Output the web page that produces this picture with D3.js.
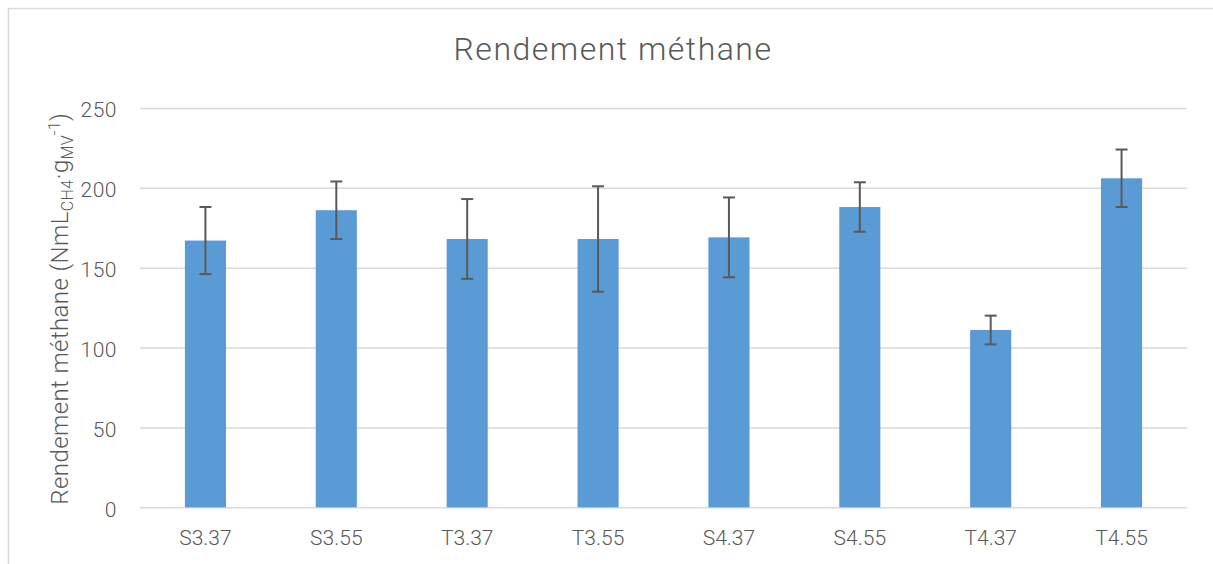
<!DOCTYPE html>
<html>
<head>
<meta charset="utf-8">
<script src="https://cdn.jsdelivr.net/npm/d3@7"></script>
<style>
  html, body { margin: 0; padding: 0; background: #ffffff; }
  svg { display: block; }
  text { font-family: Roboto, "Liberation Sans", sans-serif; font-weight: 300; fill: #595959; }
</style>
</head>
<body>
<svg id="chart" width="1213" height="564"></svg>
<script>
// Methane yield per sample, with standard deviation
const categories = ["S3.37", "S3.55", "T3.37", "T3.55", "S4.37", "S4.55", "T4.37", "T4.55"];
const yieldValues = [167, 186, 168, 168, 169, 188, 111, 206];
const yieldErrors = [21, 18, 25, 33, 25, 15.5, 9, 18];
const yTicks = [0, 50, 100, 150, 200, 250];

const svg = d3.select("#chart");
const W = 1213, H = 564;
const margin = { left: 140, right: 26, top: 108, bottom: 56 };

// chart frame
svg.append("rect")
  .attr("x", 8.5).attr("y", 8.5)
  .attr("width", W + 20).attr("height", H + 20)
  .attr("fill", "#ffffff")
  .attr("stroke", "#d9d9d9").attr("stroke-width", 1.5);

const x = d3.scaleBand()
  .domain(categories)
  .range([margin.left, W - margin.right])
  .paddingInner(0.686)
  .paddingOuter(0.343);

const y = d3.scaleLinear()
  .domain([0, 250])
  .range([H - margin.bottom - 0.7, margin.top]);

// gridlines
const grid = svg.append("g")
  .attr("transform", `translate(${margin.left},0)`)
  .call(d3.axisLeft(y).tickValues(yTicks).tickSize(-(W - margin.right - margin.left)).tickFormat(""));
grid.select(".domain").remove();
grid.selectAll("line").attr("stroke", "#d9d9d9").attr("stroke-width", 1.5);

// y tick labels
const yAxis = svg.append("g")
  .attr("transform", `translate(${margin.left},0)`)
  .call(d3.axisLeft(y).tickValues(yTicks).tickSize(0).tickPadding(23));
yAxis.select(".domain").remove();
yAxis.selectAll("text")
  .style("font-size", "21px")
  .style("letter-spacing", "0.5px")
  .attr("dy", "0.42em")
  .attr("fill", "#595959");

// bars
svg.append("g").selectAll("rect")
  .data(categories)
  .join("rect")
  .attr("x", d => x(d))
  .attr("width", x.bandwidth())
  .attr("y", (d, i) => y(yieldValues[i]))
  .attr("height", (d, i) => y(0) - y(yieldValues[i]))
  .attr("fill", "#5b9bd5");

// error bars
const eb = svg.append("g").attr("stroke", "#595959").attr("stroke-width", 2);
categories.forEach((c, i) => {
  const cx = x(c) + x.bandwidth() / 2;
  const top = y(yieldValues[i] + yieldErrors[i]);
  const bot = y(yieldValues[i] - yieldErrors[i]);
  eb.append("line").attr("x1", cx).attr("x2", cx).attr("y1", top).attr("y2", bot);
  eb.append("line").attr("x1", cx - 6).attr("x2", cx + 6).attr("y1", top).attr("y2", top);
  eb.append("line").attr("x1", cx - 6).attr("x2", cx + 6).attr("y1", bot).attr("y2", bot);
});

// x axis labels
const xAxis = svg.append("g")
  .attr("transform", `translate(0,${y(0)})`)
  .call(d3.axisBottom(x).tickSize(0).tickPadding(23));
xAxis.select(".domain").remove();
xAxis.selectAll("text")
  .style("font-size", "21px")
  .attr("fill", "#595959");

// title
svg.append("text")
  .attr("x", 613).attr("y", 60)
  .attr("text-anchor", "middle")
  .style("font-size", "32px")
  .style("letter-spacing", "1.5px")
  .text("Rendement méthane");

// y axis title with subscripts and superscript
const yt = svg.append("text")
  .attr("transform", `translate(68,${(y(0) + y(250)) / 2 + 1}) rotate(-90)`)
  .attr("text-anchor", "middle")
  .style("font-size", "24px")
  .style("letter-spacing", "0.4px");
yt.append("tspan").text("Rendement méthane (NmL");
yt.append("tspan").attr("dy", 5).style("font-size", "16px").text("CH4");
yt.append("tspan").attr("dy", -5).text("·g");
yt.append("tspan").attr("dy", 5).style("font-size", "16px").text("MV");
yt.append("tspan").attr("dy", -13).style("font-size", "16px").text("-1");
yt.append("tspan").attr("dy", 8).text(")");
</script>
</body>
</html>
